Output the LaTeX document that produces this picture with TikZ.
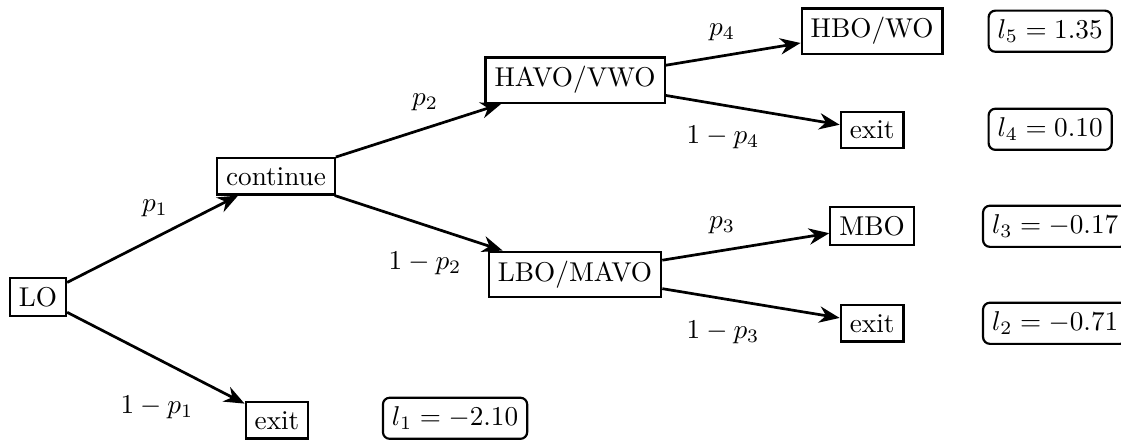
\documentclass[tikz,border=0pt]{standalone}
\usetikzlibrary{arrows.meta}
\begin{document}
\begin{tikzpicture}[
    state/.style={draw,thick},
    payoff/.style={draw,thick,rounded corners=2.5pt},
    branch/.style={line width=1pt,-{Stealth[length=7.5pt,width=6pt]}}]
  \useasboundingbox (-0.49,-1.85) rectangle (13.99,3.84);
  % tree
  \node[state] (lo) at (0,0) {LO};
  \node[state] (cont) at (3.075,1.563) {continue};
  \node[state] (exitA) at (3.088,-1.589) {exit};
  \node[state] (havo) at (6.938,2.804) {HAVO/VWO};
  \node[state] (lbo) at (6.938,0.297) {LBO/MAVO};
  \node[state] (hbo) at (10.775,3.437) {HBO/WO};
  \node[state] (exitD) at (10.775,2.158) {exit};
  \node[state] (mbo) at (10.775,0.917) {MBO};
  \node[state] (exitC) at (10.775,-0.336) {exit};
  % values
  \node[payoff] (lA) at (5.388,-1.563) {$l_1=-2.10$};
  \node[payoff] (lB) at (13.14,-0.336) {$l_2=-0.71$};
  \node[payoff] (lC) at (13.14,0.917) {$l_3=-0.17$};
  \node[payoff] (lD) at (13.075,2.17) {$l_4=0.10$};
  \node[payoff] (lE) at (13.075,3.437) {$l_5=1.35$};
  % branches
  \draw[branch] (lo) -- (cont);
  \draw[branch] (lo) -- (exitA);
  \draw[branch] (cont) -- (havo);
  \draw[branch] (cont) -- (lbo);
  \draw[branch] (havo) -- (hbo);
  \draw[branch] (havo) -- (exitD);
  \draw[branch] (lbo) -- (mbo);
  \draw[branch] (lbo) -- (exitC);
  % probabilities
  \node (pA) at (1.512,1.15) {$p_1$};
  \node (qA) at (1.537,-1.421) {$1-p_1$};
  \node (pB) at (5.0,2.519) {$p_2$};
  \node (qB) at (5.0,0.439) {$1-p_2$};
  \node (pC) at (8.837,0.93) {$p_3$};
  \node (qC) at (8.85,-0.452) {$1-p_3$};
  \node (pD) at (8.837,3.424) {$p_4$};
  \node (qD) at (8.85,2.067) {$1-p_4$};
\end{tikzpicture}
\end{document}
